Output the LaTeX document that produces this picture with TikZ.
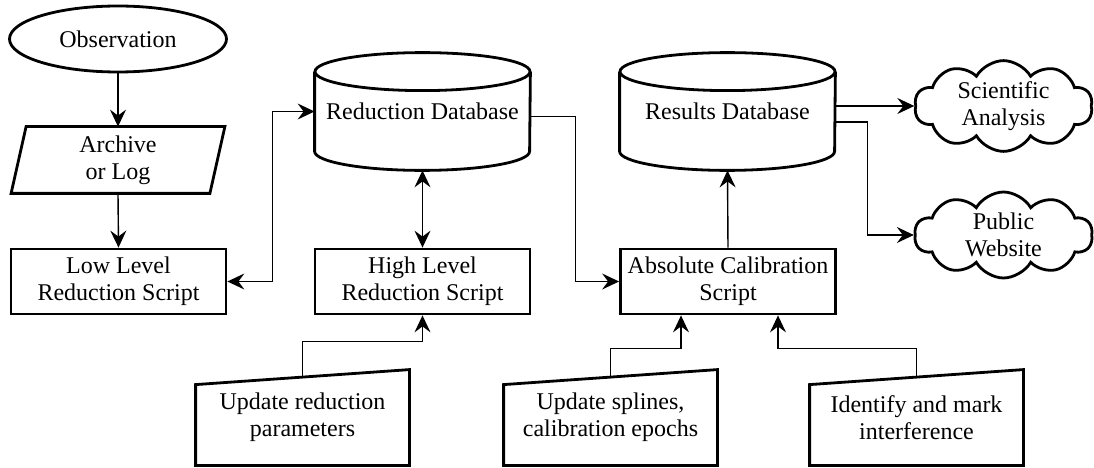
\documentclass[tikz,border=0pt]{standalone}
\usepackage{fontspec}
\setmainfont{LiberationSerif}[Extension=.ttf, UprightFont=*-Regular, BoldFont=*-Bold, ItalicFont=*-Italic, BoldItalicFont=*-BoldItalic]
\usetikzlibrary{shapes.geometric,shapes.symbols,arrows.meta,calc}
\begin{document}
\begin{tikzpicture}[x=0.5pt,y=0.5pt,
  txt/.style={font=\fontsize{12}{13.5}\selectfont, align=center, inner sep=0pt},
  outl/.style={line width=1.4pt, line join=miter},
  box/.style={txt, draw, outl, minimum width=107.5pt, minimum height=32.5pt},
  conn/.style={line width=0.7pt, -{Stealth[length=8.5pt,width=8pt,inset=3pt]}},
  bconn/.style={line width=0.7pt, {Stealth[length=8.5pt,width=8pt,inset=3pt]}-{Stealth[length=8.5pt,width=8pt,inset=3pt]}},
  cyl/.style={txt, minimum width=107.5pt, minimum height=58.5pt},
  bubble/.style={txt, draw, outl, cloud, cloud puffs=10, cloud puff arc=120, aspect=2, minimum width=89pt, minimum height=43pt},
  manual/.style={txt, minimum width=106.5pt, minimum height=47.5pt},
]
\useasboundingbox (0,0) rectangle (1094,467);

% Observation
\node[txt, draw, outl, ellipse, minimum width=108.5pt, minimum height=33pt] (obs) at (118,428) {Observation};

% Archive
\node[txt, minimum width=99pt, minimum height=33pt] (arch) at (118,307) {Archive\\or Log};
\draw[outl] ([xshift=-3.75pt]arch.south west) -- ([xshift=3.75pt]arch.north west) -- ([xshift=3.75pt]arch.north east) -- ([xshift=-3.75pt]arch.south east) -- cycle;

% Scripts
\node[box] (low) at (118.5,185.5) {Low Level\\Reduction Script};
\node[box] (high) at (422.5,185.5) {High Level\\Reduction Script};
\node[box] (abs) at (728,185.5) {Absolute Calibration\\Script};

% Databases
\node[cyl] (rdb) at (422.5,355.5) {Reduction Database};
\draw[outl] ([yshift=-9.5pt]rdb.north west) -- ([yshift=9.5pt]rdb.south west) arc[start angle=180, end angle=360, x radius=53.75pt, y radius=9.5pt] -- ([yshift=-9.5pt]rdb.north east);
\draw[outl] ([yshift=-9.5pt]rdb.north) ellipse[x radius=53.75pt, y radius=9.5pt];

\node[cyl] (resdb) at (727.5,355.5) {Results Database};
\draw[outl] ([yshift=-9.5pt]resdb.north west) -- ([yshift=9.5pt]resdb.south west) arc[start angle=180, end angle=360, x radius=53.75pt, y radius=9.5pt] -- ([yshift=-9.5pt]resdb.north east);
\draw[outl] ([yshift=-9.5pt]resdb.north) ellipse[x radius=53.75pt, y radius=9.5pt];

% Clouds
\node[bubble] (sci) at (1003.5,361) {Scientific\\Analysis};
\node[bubble] (pub) at (1003.5,232) {Public\\Website};

% Manual inputs
\node[manual] (upd1) at (302.5,49.5) {Update reduction\\parameters};
\node[manual] (upd2) at (610.5,49.5) {Update splines,\\calibration epochs};
\node[manual] (upd3) at (916.5,49.5) {Identify and mark\\interference};
\foreach \n in {upd1,upd2,upd3}{
  \draw[outl] (\n.south west) -- ([yshift=-7.5pt]\n.north west) -- (\n.north east) -- (\n.south east) -- cycle;
}
\coordinate (u1t) at ([yshift=-3.75pt]upd1.north);
\coordinate (u2t) at ([yshift=-3.75pt]upd2.north);
\coordinate (u3t) at ([yshift=-3.75pt]upd3.north);

% Connectors
\draw[conn] (obs.south) -- (arch.north);
\draw[conn] (arch.south) -- (low.north);
\draw[bconn] (low.east) -- ++(22.5pt,0) |- (rdb.west);
\draw[bconn] (high.north) -- (rdb.south);
\draw[conn] ([yshift=-2.5pt]rdb.east) -- ++(22.5pt,0) |- (abs.west);
\draw[conn] (abs.north) -- (resdb.south);
\draw[conn] (resdb.east |- sci.west) -- (sci.west);
\draw[conn] ([yshift=-5.25pt]resdb.east) -- ++(16pt,0) |- (pub.west);
\draw[conn] (u1t) -- ++(0,17.75pt) -| (high.south);
\draw[conn] (u2t) -- ++(0,14.25pt) -| ([xshift=-23.5pt]abs.south);
\draw[conn] (u3t) -- ++(0,14.25pt) -| ([xshift=25pt]abs.south);
\end{tikzpicture}
\end{document}
